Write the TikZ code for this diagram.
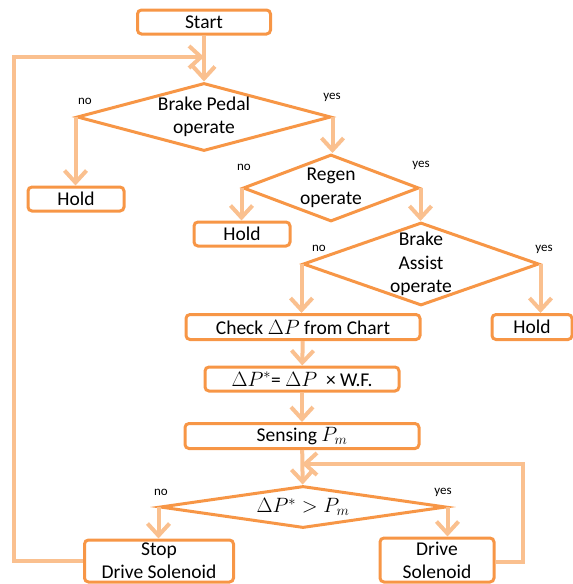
\documentclass[tikz,border=0pt]{standalone}
\usepackage{fontspec}
\setmainfont{Carlito}
\usetikzlibrary{shapes.geometric,arrows.meta,calc}

\newlength{\du}
\setlength{\du}{1pt}

\definecolor{boxcolor}{rgb}{0.968627, 0.588235, 0.274510}
\definecolor{flowcolor}{rgb}{0.980392, 0.752941, 0.560784}

\tikzset{
  stepbox/.style={draw=boxcolor, fill=white, line width=3\du, rounded corners=4\du,
    inner sep=0pt, align=center, font=\fontsize{19.5}{23}\selectfont},
  testbox/.style={draw=boxcolor, fill=white, line width=3\du, diamond, inner sep=-20\du,
    align=center, font=\fontsize{19.5}{23.5}\selectfont},
  answer/.style={inner sep=0pt, font=\fontsize{13}{15}\selectfont},
  flow/.style={draw=flowcolor, line width=4\du, -{Straight Barb[length=12pt,width=22pt]}},
}

\begin{document}
\begin{tikzpicture}
\pgftransformyscale{-1.000000}
\useasboundingbox (0\du,0\du) rectangle (573\du,584\du);
% boxes
\node[stepbox, minimum width=133\du, minimum height=24\du] (start) at (204\du,22\du) {Start};
\node[testbox, minimum width=254\du, minimum height=68\du] (pedal) at (204\du,117\du) {Brake Pedal\\operate};
\node[stepbox, minimum width=96\du, minimum height=24\du] (hold1) at (76\du,199\du) {Hold};
\node[testbox, minimum width=176\du, minimum height=67\du] (regen) at (331\du,188\du) {Regen\\operate};
\node[stepbox, minimum width=96\du, minimum height=24\du] (hold2) at (242\du,234\du) {Hold};
\node[testbox, minimum width=236\du, minimum height=83\du] (assist) at (421\du,264\du) {Brake\\Assist\\operate};
\node[stepbox, minimum width=234\du, minimum height=25\du] (check) at (303\du,327\du) {Check $\Delta P$ from Chart};
\node[stepbox, minimum width=80\du, minimum height=25\du] (hold3) at (532\du,327\du) {Hold};
\node[stepbox, minimum width=194\du, minimum height=24\du] (weight) at (302\du,379\du) {$\Delta P^{*}$= $\Delta P$ \ × W.F.};
\node[stepbox, minimum width=234\du, minimum height=25\du] (sense) at (302\du,436\du) {Sensing $P_m$};
\node[testbox, minimum width=286\du, minimum height=42\du] (compare) at (303\du,507\du) {$\Delta P^{*} > P_m$};
\node[stepbox, minimum width=149\du, minimum height=42\du] (stop) at (159\du,561\du) {Stop\\Drive Solenoid};
\node[stepbox, minimum width=114\du, minimum height=44\du] (drive) at (437\du,560\du) {Drive\\Solenoid};
% answers
\node[answer] (no1) at (85\du,101\du) {no};
\node[answer] (yes1) at (332\du,97\du) {yes};
\node[answer] (no2) at (244\du,167\du) {no};
\node[answer] (yes2) at (421\du,165\du) {yes};
\node[answer] (no3) at (319\du,248\du) {no};
\node[answer] (yes3) at (544\du,249\du) {yes};
\node[answer] (no4) at (161\du,492\du) {no};
\node[answer] (yes4) at (443\du,492\du) {yes};
% loops
\coordinate (backleft) at (14\du,57\du);
\coordinate (backright) at (523\du,464\du);
% flow
\draw[flow] (start) -- (pedal);
\draw[flow] (pedal.west) -- (pedal.west |- hold1.north);
\draw[flow] (pedal.east) -- (pedal.east |- regen.north);
\draw[flow] (regen.west) -- (regen.west |- hold2.north);
\draw[flow] (regen.east) -- (regen.east |- assist.north);
\draw[flow] (assist.west) -- (assist.west |- check.north);
\draw[flow] (assist.east) -- (assist.east |- hold3.north);
\draw[flow] (check) -- (weight);
\draw[flow] (weight) -- (sense);
\draw[flow] (sense) -- (compare);
\draw[flow] (compare.west) -- (compare.west |- stop.north);
\draw[flow] (compare.east) -- (compare.east |- drive.north);
\draw[flow] (stop.west) -| (backleft) -- (start.south |- backleft);
\draw[flow] ([yshift=2\du]drive.east) -| (backright) -- (sense.south |- backright);
\end{tikzpicture}
\end{document}
